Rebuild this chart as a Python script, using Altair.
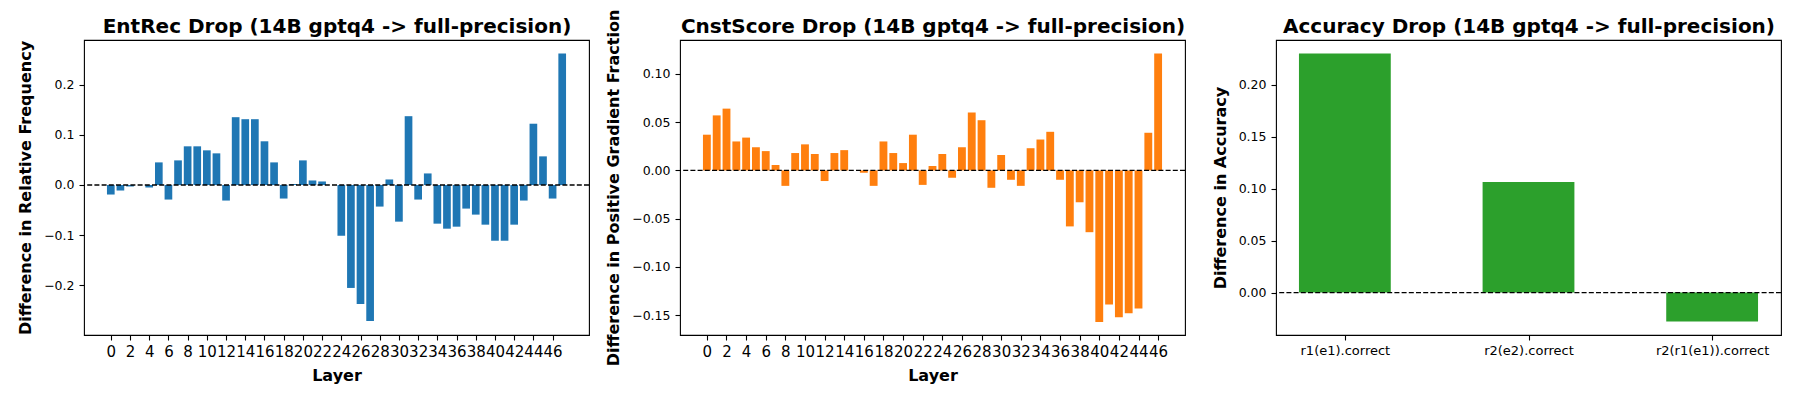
import altair as alt
import pandas as pd

# ---- data ----
entrec_layers = list(range(48))
entrec_values = [
    -0.019, -0.011, -0.003, 0.0, -0.005, 0.045, -0.029, 0.049, 0.077, 0.077,
    0.069, 0.063, -0.031, 0.135, 0.131, 0.131, 0.087, 0.045, -0.027, 0.002,
    0.049, 0.009, 0.007, 0.0, -0.101, -0.205, -0.237, -0.271, -0.043, 0.011,
    -0.073, 0.137, -0.029, 0.023, -0.077, -0.087, -0.083, -0.047, -0.059, -0.079,
    -0.111, -0.111, -0.079, -0.031, 0.122, 0.057, -0.027, 0.262,
]

cnst_layers = list(range(47))
cnst_values = [
    0.037, 0.057, 0.064, 0.030, 0.034, 0.024, 0.020, 0.0056, -0.016, 0.018,
    0.027, 0.017, -0.011, 0.018, 0.021, 0.0, -0.0024, -0.016, 0.030, 0.018,
    0.0076, 0.037, -0.015, 0.0045, 0.017, -0.0076, 0.024, 0.060, 0.052, -0.018,
    0.016, -0.0097, -0.016, 0.023, 0.032, 0.040, -0.0097, -0.058, -0.033, -0.064,
    -0.157, -0.139, -0.152, -0.148, -0.143, 0.039, 0.121,
]

acc_categories = ["r1(e1).correct", "r2(e2).correct", "r2(r1(e1)).correct"]
acc_values = [0.2303, 0.1065, -0.028]

layer_ticks = list(range(0, 47, 2))

titles = [
    "EntRec Drop (14B gptq4 -> full-precision)",
    "CnstScore Drop (14B gptq4 -> full-precision)",
    "Accuracy Drop (14B gptq4 -> full-precision)",
]
ylabels = [
    "Difference in Relative Frequency",
    "Difference in Positive Gradient Fraction",
    "Difference in Accuracy",
]

FONT = "DejaVu Sans"
W, H = 505, 295
YTITLE_SIZE = 16


def title_axis(text):
    # panel title drawn as the title of an empty top axis, so it sits at a
    # fixed distance above the plot frame
    return alt.Axis(
        orient="top", title=text, labels=False, ticks=False, domain=False,
        titleFontSize=20, titleFont=FONT, titleFontWeight="bold",
        titleColor="black", titlePadding=8, titleBaseline="alphabetic",
        titleLimit=2000,
    )


zero_df = pd.DataFrame({"y": [0.0]})


def zero_rule():
    return alt.Chart(zero_df).mark_rule(
        color="black", strokeDash=[5, 2.2], strokeWidth=1.3
    ).encode(y=alt.Y("y:Q"))


def panel(df, color, title, ylabel, ydomain, yticks, yfmt, xdomain, xaxis, half):
    base = alt.Chart(df).transform_calculate(
        x0=f"datum.pos - {half}", x1=f"datum.pos + {half}"
    )
    xscale = alt.Scale(domain=xdomain, nice=False, zero=False)
    bars = base.mark_bar(color=color).encode(
        x=alt.X("x0:Q", scale=xscale, axis=xaxis),
        x2="x1:Q",
        y=alt.Y(
            "value:Q",
            scale=alt.Scale(domain=ydomain, nice=False, zero=False),
            axis=alt.Axis(values=yticks, format=yfmt, title=ylabel),
        ),
        y2=alt.datum(0),
    )
    top = base.mark_rule(opacity=0).encode(
        x=alt.X("x0:Q", scale=xscale, axis=title_axis(title))
    )
    return alt.layer(bars, zero_rule(), top).properties(width=W, height=H)


def layer_xaxis():
    return alt.Axis(
        orient="bottom", values=layer_ticks, title="Layer", labelFontSize=15,
        labelOverlap=False, labelFlush=False, labelBound=False,
        format="d", titlePadding=8,
    )


df1 = pd.DataFrame({"pos": entrec_layers, "value": entrec_values})
df2 = pd.DataFrame({"pos": cnst_layers, "value": cnst_values})
df3 = pd.DataFrame({
    "pos": list(range(len(acc_categories))),
    "cat": acc_categories,
    "value": acc_values,
})

p1 = panel(
    df1, "#1f77b4", titles[0], ylabels[0],
    [-0.2987, 0.2887], [-0.3, -0.2, -0.1, 0.0, 0.1, 0.2], ".1f", [-2.79, 49.79],
    layer_xaxis(), 0.4,
)
p2 = panel(
    df2, "#ff7f0e", titles[1], ylabels[1],
    [-0.1705, 0.1351], [-0.15, -0.10, -0.05, 0.0, 0.05, 0.10], ".2f", [-2.74, 48.74],
    layer_xaxis(), 0.4,
)
label_expr = "[" + ",".join("'" + c + "'" for c in acc_categories) + "][datum.value]"
p3 = panel(
    df3, "#2ca02c", titles[2], ylabels[2],
    [-0.0409, 0.2432], [0.0, 0.05, 0.10, 0.15, 0.20], ".2f", [-0.375, 2.375],
    alt.Axis(
        orient="bottom", values=[0, 1, 2], labelExpr=label_expr, title=None,
        labelFontSize=13, labelOverlap=False, labelFlush=False, labelBound=False,
    ),
    0.25,
)

chart = alt.HConcatChart(
    hconcat=[p1, p2, p3], spacing=91, bounds="flush"
).configure(
    background="white", padding={"left": 9, "right": 5, "top": 0, "bottom": 5},
).configure_view(
    stroke="black", strokeWidth=1.1
).configure_axis(
    grid=False, domain=False, ticks=True, tickColor="black", tickWidth=1.1,
    tickSize=5, labelFont=FONT, labelColor="black", labelFontSize=12.5,
    labelPadding=4, titleFont=FONT, titleFontSize=YTITLE_SIZE, titleFontWeight="bold",
    titleColor="black",
).configure_axisY(
    titlePadding=10, labelPadding=5,
)

chart.save("out.html", embed_options={"renderer": "svg", "actions": False})
